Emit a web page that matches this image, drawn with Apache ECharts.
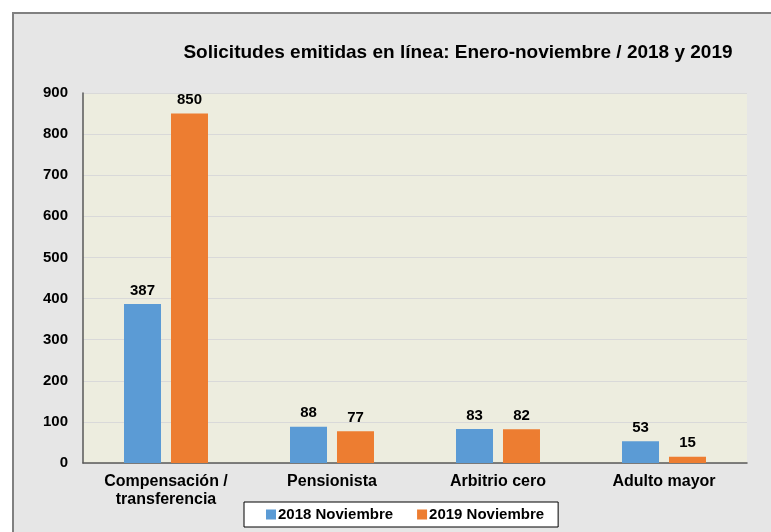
<!DOCTYPE html>
<html lang="es">
  <head>
    <meta charset="UTF-8" />
    <title>Solicitudes emitidas en línea</title>
    <style type="text/css">
      html, body {
        margin: 0;
        padding: 0;
        background-color: #fff;
        overflow: hidden;
      }
      #frame {
        position: absolute;
        left: 12px;
        top: 12px;
        width: 800px;
        height: 600px;
        border: 2px solid #808080;
        background-color: #e6e6e6;
      }
      #main {
        position: absolute;
        left: 0;
        top: 0;
        width: 771px;
        height: 532px;
      }
    </style>
  </head>
  <body>
    <div id="frame"></div>
    <div id="main"></div>
    <script src="https://cdn.jsdelivr.net/npm/echarts@6/dist/echarts.min.js"></script>
    <script type="text/javascript">
      var categories = ["Compensación /\ntransferencia", "Pensionista", "Arbitrio cero", "Adulto mayor"];
      var values2018 = [387, 88, 83, 53];
      var values2019 = [850, 77, 82, 15];
      var yTicks = [0, 900, 100];

      var font = "'Liberation Sans', Arial, sans-serif";
      var myChart = echarts.init(document.getElementById("main"));

      var barLabel = {
        show: true,
        position: "top",
        distance: 6,
        color: "#000",
        fontFamily: font,
        fontWeight: "bold",
        fontSize: 15,
      };

      var option = {
        backgroundColor: "transparent",
        animation: false,
        title: {
          text: "Solicitudes emitidas en línea: Enero-noviembre / 2018 y 2019",
          left: 453,
          top: 38,
          textAlign: "center",
          textStyle: {
            fontFamily: font,
            fontWeight: "bold",
            fontSize: 19,
            color: "#000",
          },
        },
        legend: {
          left: 244,
          top: 502,
          padding: [5, 14, 5, 22],
          itemGap: 24,
          itemWidth: 10,
          itemHeight: 10,
          borderColor: "#000",
          borderWidth: 1,
          backgroundColor: "#fff",
          icon: "rect",
          textStyle: {
            fontFamily: font,
            fontWeight: "bold",
            fontSize: 15,
            color: "#000",
            padding: [0, 0, 0, -3],
          },
          data: ["2018 Noviembre", "2019 Noviembre"],
        },
        grid: {
          left: 83,
          top: 93,
          right: 24,
          bottom: 69,
          show: true,
          backgroundColor: "#ededdf",
          borderWidth: 0,
        },
        xAxis: {
          type: "category",
          data: categories,
          axisLine: { lineStyle: { color: "#595959", width: 1.5 } },
          axisTick: { show: false },
          axisLabel: {
            margin: 10,
            color: "#000",
            fontFamily: font,
            fontWeight: "bold",
            fontSize: 16,
            lineHeight: 18,
          },
        },
        yAxis: {
          type: "value",
          min: yTicks[0],
          max: yTicks[1],
          interval: yTicks[2],
          axisLine: { show: true, lineStyle: { color: "#595959", width: 1.5 } },
          axisTick: { show: false },
          splitLine: { lineStyle: { color: "#d9d9d9", width: 1 } },
          axisLabel: {
            margin: 15,
            color: "#000",
            fontFamily: font,
            fontWeight: "bold",
            fontSize: 15,
          },
        },
        series: [
          {
            name: "2018 Noviembre",
            type: "bar",
            data: values2018,
            barWidth: 37,
            barGap: "27%",
            itemStyle: { color: "#5b9bd5" },
            label: barLabel,
          },
          {
            name: "2019 Noviembre",
            type: "bar",
            data: values2019,
            barWidth: 37,
            barGap: "27%",
            itemStyle: { color: "#ed7d31" },
            label: barLabel,
          },
        ],
      };

      myChart.setOption(option);
    </script>
  </body>
</html>
